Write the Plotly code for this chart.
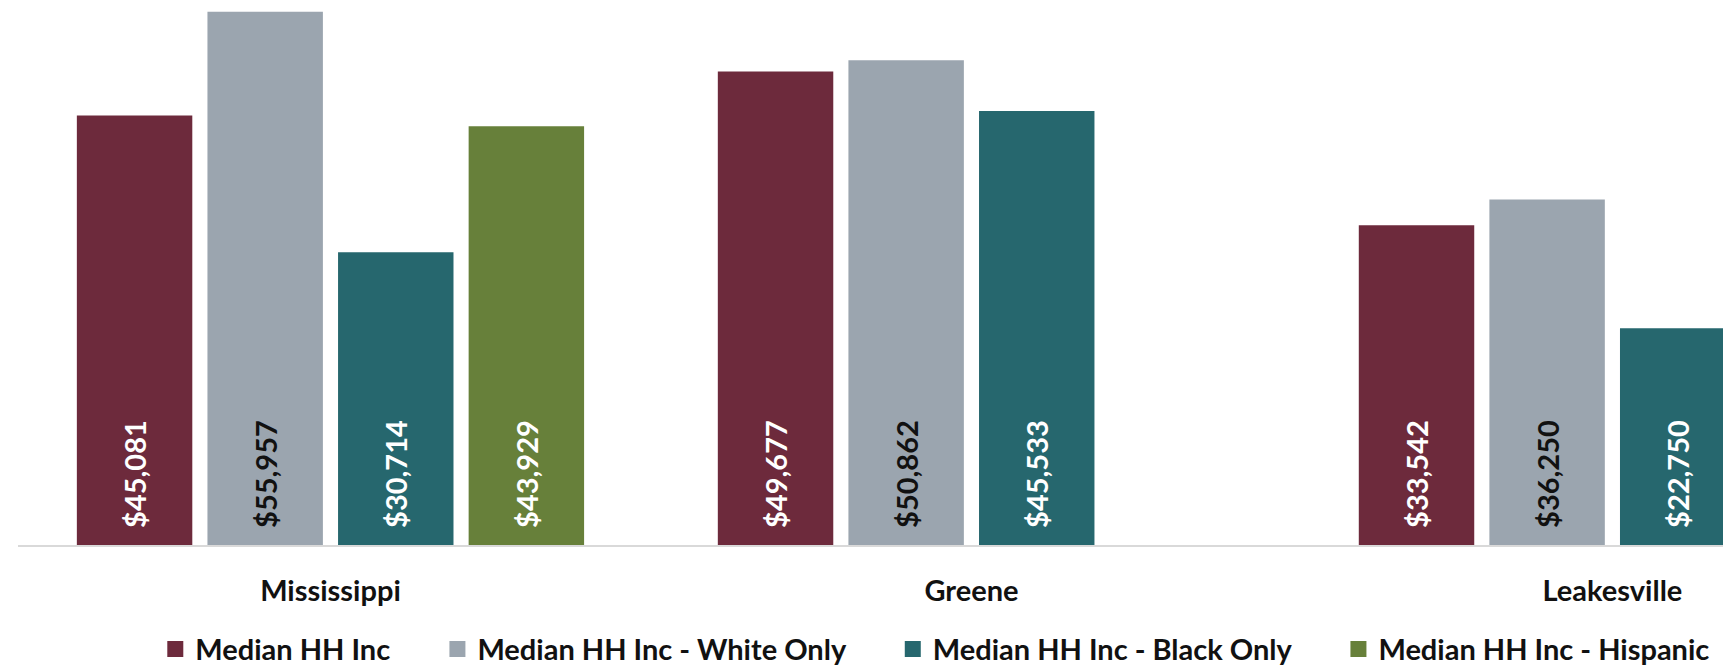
import plotly.graph_objects as go

categories = ["Mississippi", "Greene", "Leakesville"]
series_names = [
    "Median HH Inc",
    "Median HH Inc - White Only",
    "Median HH Inc - Black Only",
    "Median HH Inc - Hispanic",
]
median_all = [45081, 49677, 33542]
median_white = [55957, 50862, 36250]
median_black = [30714, 45533, 22750]
median_hispanic = [43929, None, None]

series_values = [median_all, median_white, median_black, median_hispanic]
colors = ["#6d2a3c", "#9ba5af", "#26676e", "#67803a"]
label_colors = ["#ffffff", "#111111", "#ffffff", "#ffffff"]

FONT = "Lato"
PAD = "\u00a0\u00a0"
GAP = "\u00a0" * 6

fig = go.Figure()
for name, vals, col, lcol in zip(series_names, series_values, colors, label_colors):
    fig.add_trace(go.Bar(
        x=categories,
        y=vals,
        name=name,
        marker=dict(color=col, line=dict(width=0)),
        text=[(PAD + f"${v:,}") if v is not None else "" for v in vals],
        textposition="inside",
        insidetextanchor="start",
        textangle=-90,
        insidetextfont=dict(family=FONT, size=29, color=lcol, weight="bold"),
        showlegend=False,
    ))

# legend entries with larger square swatches
for i, (name, col) in enumerate(zip(series_names, colors)):
    fig.add_trace(go.Scatter(
        x=[None], y=[None], mode="markers",
        name=name + (GAP if i < len(series_names) - 1 else ""),
        marker=dict(symbol="square", size=20, color=col),
        showlegend=True,
    ))

fig.update_layout(
    width=1731, height=668,
    margin=dict(l=10, r=0, t=0, b=131, autoexpand=False),
    paper_bgcolor="white", plot_bgcolor="white",
    barmode="group",
    bargap=0.185,
    bargroupgap=0.116,
    font=dict(family=FONT, color="#111111"),
    showlegend=True,
    legend=dict(
        orientation="h",
        x=0.533, xanchor="center",
        y=-0.194, yanchor="middle",
        font=dict(family=FONT, size=29, color="#111111", weight="bold"),
        itemsizing="trace",
        traceorder="normal",
    ),
)
fig.update_xaxes(
    range=[-0.4875, 2.1975],
    showline=True, linecolor="#d9d9d9", linewidth=1.5,
    showgrid=False, zeroline=False,
    ticks="", ticklabelstandoff=19,
    tickfont=dict(family=FONT, size=29, color="#111111", weight="bold"),
)
fig.update_yaxes(
    range=[0, 56350],
    visible=False, showgrid=False, zeroline=False,
)

fig.write_html("out.html")
